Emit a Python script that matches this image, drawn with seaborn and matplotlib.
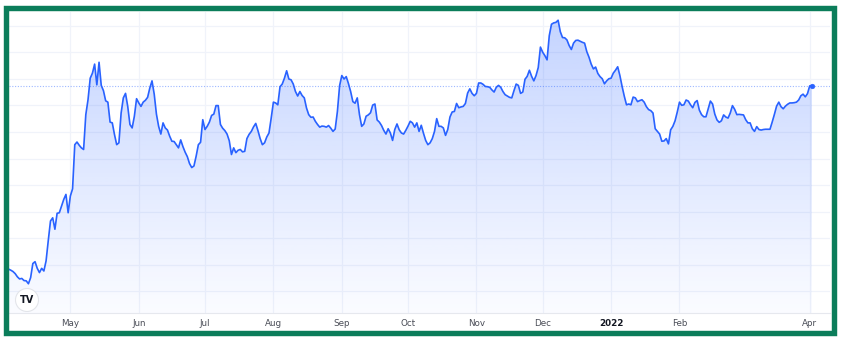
import numpy as np
import pandas as pd
import matplotlib
matplotlib.use("Agg")
import matplotlib.pyplot as plt
import matplotlib.dates as mdates
import seaborn as sns
from matplotlib.patches import Rectangle, Polygon
from matplotlib.colors import LinearSegmentedColormap

sns.set_theme(style="white")
plt.rcParams['font.family'] = ['DejaVu Sans']

# ---------------- data (daily closes) ----------------
start_date = "2021-04-03"
apr21 = [18.4, 18.0, 17.5, 16.7, 15.5, 14.7, 14.9, 14.1, 14.0, 12.9, 15.2, 20.5, 21.2, 18.7,
         17.1, 18.7, 17.7, 21.5, 29.2, 36.5, 37.7, 33.4, 39.4, 39.6, 42.1, 44.6, 46.5, 39.6]
may21 = [45.9, 48.6, 65.2, 66.2, 65.0, 64.0, 63.4, 76.5, 82.1, 90.2, 92.1, 95.5, 87.7, 96.2,
         87.5, 85.5, 81.7, 81.2, 73.7, 73.4, 69.0, 65.2, 65.9, 77.1, 82.8, 84.5, 79.6, 72.8,
         71.5, 75.9, 82.5]
jun21 = [80.9, 79.6, 81.2, 81.9, 83.0, 86.5, 89.2, 84.2, 76.7, 72.1, 69.2, 73.4, 71.5, 70.7,
         68.4, 66.5, 66.4, 65.2, 64.0, 67.0, 64.5, 62.4, 60.7, 58.1, 56.6, 57.2, 60.9, 65.2,
         66.1, 74.6]
jul21 = [70.9, 72.1, 73.7, 76.2, 76.7, 79.9, 79.9, 72.8, 71.4, 70.5, 69.2, 66.7, 61.5, 64.0,
         62.2, 63.1, 63.4, 62.5, 62.7, 67.5, 69.1, 70.2, 71.9, 73.2, 70.5, 67.5, 65.2, 65.9,
         68.1, 69.6, 75.2]
aug21 = [81.2, 80.9, 80.2, 87.0, 88.0, 90.2, 93.0, 89.9, 89.6, 88.0, 85.2, 83.5, 85.2, 83.7,
         82.8, 79.0, 76.5, 75.5, 75.6, 74.0, 72.8, 71.8, 72.2, 72.1, 71.8, 72.4, 71.4, 70.2,
         71.1, 77.7, 87.4]
sep21 = [91.2, 89.9, 90.8, 88.2, 85.2, 81.4, 80.8, 82.8, 76.5, 72.1, 73.0, 75.9, 76.4, 77.2,
         80.1, 80.5, 74.5, 73.7, 72.4, 70.6, 69.2, 71.2, 69.6, 66.8, 70.9, 73.0, 70.8, 69.6,
         69.2, 70.6]
oct21 = [72.2, 74.0, 73.4, 71.8, 73.4, 70.2, 72.5, 69.5, 66.8, 65.2, 65.9, 67.5, 70.2, 75.0,
         72.1, 72.1, 71.5, 68.7, 70.9, 75.6, 77.5, 77.7, 80.7, 79.1, 79.4, 79.6, 80.7, 84.6,
         86.2, 84.5, 83.6]
nov21 = [84.5, 88.4, 88.4, 87.9, 87.1, 87.0, 86.8, 85.8, 85.0, 86.8, 87.5, 86.8, 85.2, 84.0,
         83.5, 83.0, 82.8, 85.5, 88.0, 87.5, 84.5, 85.0, 89.8, 90.9, 93.2, 90.9, 89.2, 91.2,
         94.2, 101.9]
dec21 = [100.0, 98.7, 97.1, 106.2, 110.5, 111.0, 111.2, 112.0, 107.7, 105.5, 105.4, 104.6,
         102.5, 101.0, 103.4, 104.4, 104.5, 104.1, 103.7, 103.4, 100.2, 98.1, 95.5, 93.7, 94.4,
         92.0, 90.8, 90.0, 88.1, 89.2, 90.0]
jan22 = [90.2, 92.1, 93.2, 94.5, 91.2, 87.1, 83.4, 80.2, 80.5, 80.2, 83.1, 82.8, 81.4, 81.8,
         82.1, 81.2, 79.5, 78.4, 78.0, 77.1, 71.2, 70.2, 69.2, 66.5, 66.6, 67.5, 65.5, 70.8,
         72.1, 74.2, 77.5]
feb22 = [81.2, 80.0, 80.2, 82.0, 81.6, 80.2, 79.1, 81.1, 81.8, 78.2, 76.5, 75.7, 75.7, 78.6,
         81.6, 80.5, 76.7, 74.5, 73.6, 74.2, 76.4, 75.6, 75.2, 77.1, 79.9, 78.5, 76.5, 76.6]
mar22 = [76.5, 76.4, 74.6, 73.4, 73.4, 71.2, 70.2, 72.0, 70.9, 70.7, 70.9, 71.0, 71.0, 71.0,
         73.7, 76.6, 79.7, 81.2, 79.5, 78.7, 79.7, 80.4, 80.9, 80.9, 81.0, 81.2, 82.0, 83.6,
         84.2, 83.2, 84.4]
apr22 = [87.3, 87.4]

tick_dates = ["2021-05-01", "2021-06-01", "2021-07-01", "2021-08-01", "2021-09-01",
              "2021-10-01", "2021-11-01", "2021-12-01", "2022-01-01", "2022-02-01",
              "2022-04-01"]
tick_labels = ["May", "Jun", "Jul", "Aug", "Sep", "Oct", "Nov", "Dec", "2022", "Feb", "Apr"]
grid_levels = [10, 20, 30, 40, 50, 60, 70, 80, 90, 100, 110]

values = apr21 + may21 + jun21 + jul21 + aug21 + sep21 + oct21 + nov21 + dec21 + jan22 + feb22 + mar22 + apr22
dates = pd.date_range(start_date, periods=len(values), freq="D")
df = pd.DataFrame({"date": dates, "price": values})

# ---------------- figure ----------------
W, H = 842, 340
fig = plt.figure(figsize=(W / 100, H / 100), dpi=100)
fig.patch.set_facecolor("white")
ax = fig.add_axes([9 / W, 27 / H, 821 / W, 301 / H])
ax.set_facecolor("white")

BLUE = "#2962ff"
ref = mdates.date2num(pd.Timestamp("2021-05-01"))
x0, x1 = ref - 27.8, ref + 344.2
y0, y1 = 1.9, 115.1

sns.lineplot(data=df, x="date", y="price", color=BLUE, linewidth=1.2, ax=ax, zorder=4)
ax.set_xlim(x0, x1)
ax.set_ylim(y0, y1)

# gradient area fill
xs = mdates.date2num(df["date"])
ys = np.asarray(values)
verts = np.column_stack([np.r_[xs[0], xs, xs[-1]], np.r_[y0, ys, y0]])
poly = Polygon(verts, closed=True, facecolor="none", edgecolor="none")
ax.add_patch(poly)
cmap = LinearSegmentedColormap.from_list(
    "area", [(41 / 255, 98 / 255, 1, 0.02), (41 / 255, 98 / 255, 1, 0.28)])
grad = np.linspace(0, 1, 256).reshape(-1, 1)
im = ax.imshow(grad, aspect="auto", cmap=cmap, extent=[x0, x1, y0, y1],
               origin="lower", zorder=2, interpolation="bilinear")
im.set_clip_path(poly)
ax.set_xlim(x0, x1)
ax.set_ylim(y0, y1)

# grid
for g in grid_levels:
    ax.axhline(g, color="#f0f3fa", lw=0.9, zorder=1)
tick_pos = [mdates.date2num(pd.Timestamp(d)) for d in tick_dates]
for t in tick_pos:
    ax.axvline(t, color="#f0f3fa", lw=0.9, zorder=1)

# last price line + dot
ax.axhline(values[-1], color=BLUE, lw=0.8, ls=(0, (1, 1.5)), alpha=0.45, zorder=3)
sns.scatterplot(x=[df["date"].iloc[-1]], y=[values[-1]], color=BLUE, s=12,
                edgecolor=BLUE, ax=ax, zorder=5)

# axes styling
for s in ["top", "left", "right"]:
    ax.spines[s].set_visible(False)
ax.spines["bottom"].set_color("#e6e8ee")
ax.spines["bottom"].set_linewidth(0.8)
ax.set_yticks([])
ax.set_xticks(tick_pos)
ax.set_xticklabels(tick_labels)
ax.tick_params(axis="x", length=0, pad=4, labelsize=6.3, labelcolor="#4a4d57")
for lab in ax.get_xticklabels():
    if lab.get_text() == "2022":
        lab.set_fontweight("bold")
        lab.set_color("#131722")
ax.set_xlabel("")
ax.set_ylabel("")

# TradingView-like logo
fig.text(27 / W, 1 - 300 / H, "TV", ha="center", va="center", fontsize=7,
         fontweight="heavy", color="#131722",
         bbox=dict(boxstyle="circle,pad=0.45", fc="white", ec="#e3e5ea", lw=0.8))

# green frame
fr = Rectangle((5.6 / W, 7.5 / H), 828.6 / W, 325 / H, transform=fig.transFigure,
               fill=False, edgecolor="#0b7d5a", lw=3.9, zorder=10)
fig.patches.append(fr)

fig.savefig("out.png", dpi=100, facecolor="white")
